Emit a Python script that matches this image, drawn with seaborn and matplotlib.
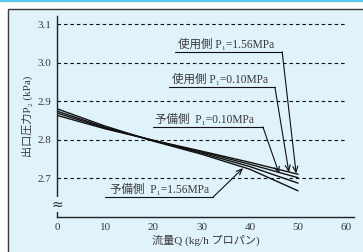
import matplotlib
matplotlib.use("Agg")
import matplotlib.pyplot as plt
import seaborn as sns
import pandas as pd
from matplotlib.patches import Rectangle
from matplotlib.lines import Line2D

# ---- data ----
flow = [0, 10, 20, 30, 40, 50]
use_156 = [2.864, 2.829, 2.799, 2.771, 2.742, 2.711]   # 使用側 P1=1.56MPa
use_010 = [2.870, 2.831, 2.799, 2.769, 2.737, 2.702]   # 使用側 P1=0.10MPa
res_010 = [2.875, 2.833, 2.798, 2.766, 2.731, 2.688]   # 予備側 P1=0.10MPa
res_156 = [2.881, 2.836, 2.797, 2.763, 2.724, 2.668]   # 予備側 P1=1.56MPa
series_names = ["使用側 P₁=1.56MPa", "使用側 P₁=0.10MPa",
                "予備側  P₁=0.10MPa", "予備側  P₁=1.56MPa"]
series_vals = [use_156, use_010, res_010, res_156]
x_ticks = [0, 10, 20, 30, 40, 50, 60]
y_ticks = [2.7, 2.8, 2.9, 3.0, 3.1]
xlabel = "流量Q (kg/h プロパン)"
ylabel = "出口圧力P₂ (kPa)"

rows = []
for name, vals in zip(series_names, series_vals):
    for q, p in zip(flow, vals):
        rows.append({"Q": q, "P": p, "series": name})
df = pd.DataFrame(rows)

sns.set_theme(style="white")
fam = ["Liberation Serif", "DejaVu Serif", "Noto Sans CJK JP"]
plt.rcParams["font.family"] = fam

BG = "#e0f2fa"
TXT = "#3a3a3a"
fig = plt.figure(figsize=(3.63, 2.52), dpi=100)
fig.patch.set_facecolor("white")
W, H = 363, 252
# light blue panel with dark border
fig.patches.append(Rectangle((8 / W, 0 - 0.01), 1.0, 1 - 9 / H + 0.01,
                             transform=fig.transFigure, facecolor=BG,
                             edgecolor="#3a3a3a", linewidth=1.0, zorder=-10))
# cyan strip at top
fig.lines.append(Line2D([0, 1], [1 - 1 / H, 1 - 1 / H], transform=fig.transFigure,
                        color="#5cc8ee", linewidth=1.6, zorder=-10))

ax = fig.add_axes([57 / W, 1 - 217 / H, (354 - 57) / W, (217 - 16) / H])
ax.set_zorder(5)
ax.set_facecolor("none")

sns.lineplot(data=df, x="Q", y="P", hue="series", palette=["#111111"] * 4,
             legend=False, ax=ax, linewidth=1.0, sort=True)

ax.set_xlim(0, 61.6)
ax.set_ylim(2.6, 3.122)
ax.hlines(y_ticks, 0, 60.2, colors="#111111", linewidth=0.8,
          linestyles=(0, (3.2, 2.6)), zorder=1)

ax.set_xticks(x_ticks)
ax.set_xticklabels([str(v) for v in x_ticks], fontsize=8, color=TXT)
ax.set_yticks(y_ticks)
ax.set_yticklabels([f"{v:.1f}" for v in y_ticks], fontsize=8, color=TXT)
ax.tick_params(axis="both", length=0, pad=4)
ax.tick_params(axis="x", pad=4)
for s in ["top", "right"]:
    ax.spines[s].set_visible(False)
for s in ["left", "bottom"]:
    ax.spines[s].set_color("#222222")
    ax.spines[s].set_linewidth(1.0)

ax.set_xlabel(xlabel, fontsize=8, color=TXT, labelpad=2)
ax.set_ylabel(ylabel, fontsize=8, color=TXT, labelpad=3)

# axis break mark
ax.text(0, 2.632, "≈", transform=ax.transData, ha="center", va="center",
        fontsize=10, color="#333333", family=["DejaVu Sans"],
        bbox=dict(facecolor=BG, edgecolor="none", pad=0.2))

# labels with underline and arrows
labels = [
    # text, text x, text y, underline start x, underline y, underline end x, arrow target
    (series_names[0], 25.1, 3.048, 24.5, 3.029, 46.7, (49.6, 2.713)),
    (series_names[1], 23.9, 2.956, 23.2, 2.937, 45.2, (48.1, 2.716)),
    (series_names[2], 20.3, 2.853, 19.9, 2.834, 42.7, (46.1, 2.712)),
    (series_names[3], 11.0, 2.671, 10.0, 2.652, 32.4, (38.6, 2.727)),
]
for txt, tx, ty, ux0, uy, ux1, tgt in labels:
    ax.text(tx, ty, txt, fontsize=8.3, color=TXT, ha="left", va="center",
            family=fam)
    ax.plot([ux0, ux1], [uy, uy], color="#111111", linewidth=0.8)
    ax.annotate("", xy=tgt, xytext=(ux1, uy),
                arrowprops=dict(arrowstyle="->,head_length=0.35,head_width=0.15",
                                color="#111111", linewidth=0.8,
                                shrinkA=0, shrinkB=0))

fig.savefig("out.png", dpi=100, facecolor=fig.get_facecolor())
